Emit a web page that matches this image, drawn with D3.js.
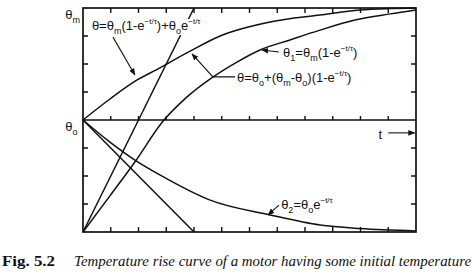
<!DOCTYPE html>
<html lang="en">
<head>
<meta charset="utf-8">
<title>Temperature rise curve</title>
<script src="https://cdn.jsdelivr.net/npm/d3@7"></script>
<style>
  body { margin: 0; background: #fff; }
  .lbl { font-family: "Liberation Sans", Arial, sans-serif; font-size: 13px; fill: #111; }
</style>
</head>
<body>
<script>
// time in tick units (0..12), temperature in tick units: 0 bottom, theta_o = 4, theta_m = 8
var tTicks = d3.range(1, 12);
var thTicks = [1, 2, 3, 5, 6, 7];

// theta1 = theta_m (1 - e^-t/T)   (starts at 0)
var riseT  = [0, 0.97, 1.87, 2.86, 3.71, 4.69, 5.55, 6.38, 7.46, 8.54, 9.8, 11.07, 12];
var riseV  = [0, 1.29, 2.5, 3.93, 4.79, 5.54, 6.07, 6.5, 6.86, 7.21, 7.57, 7.79, 7.93];
// theta = theta_o + (theta_m - theta_o)(1 - e^-t/T)
var initT  = [0, 0.97, 1.95, 2.77, 3.14, 3.86, 4.94, 6.74, 8.54, 9.98, 11.06, 12];
var initV  = [4, 4.75, 5.43, 5.86, 6.07, 6.46, 7.0, 7.5, 7.75, 7.93, 7.98, 8];
// theta2 = theta_o e^-t/T
var decayT = [0, 0.97, 1.87, 2.77, 4.58, 6.74, 8.54, 9.98, 12];
var decayV = [4, 3.21, 2.57, 2.04, 1.14, 0.61, 0.25, 0.125, 0.04];
// tangents at the origin
var tanRiseT = [0, 4], tanRiseV = [0, 8];
var tanDecayT = [0, 4], tanDecayV = [4, 0];

var w = 473, h = 274;
var svg = d3.select("body").append("svg").attr("width", w).attr("height", h);

svg.append("defs").append("marker")
    .attr("id", "ah").attr("viewBox", "0 0 10 10")
    .attr("refX", 9).attr("refY", 5)
    .attr("markerWidth", 7).attr("markerHeight", 7)
    .attr("markerUnits", "userSpaceOnUse")
    .attr("orient", "auto")
  .append("path").attr("d", "M0,1 L10,5 L0,9 Z").attr("fill", "#111");

var x = d3.scaleLinear().domain([0, 12]).range([83, 416]);
var y = d3.scaleLinear().domain([0, 8]).range([232, 8]);

// frame and middle (theta_o) line
svg.append("rect").attr("x", x(0)).attr("y", y(8))
   .attr("width", x(12) - x(0)).attr("height", y(0) - y(8))
   .attr("fill", "none").attr("stroke", "#111").attr("stroke-width", 1.7);
svg.append("line").attr("x1", x(0)).attr("x2", x(12)).attr("y1", y(4)).attr("y2", y(4))
   .attr("stroke", "#111").attr("stroke-width", 1.3);

// inward ticks, drawn as small paths
var tickPath = [];
tTicks.forEach(function(t) {
  tickPath.push("M" + x(t) + "," + y(0) + "v-5");
  tickPath.push("M" + x(t) + "," + y(8) + "v5");
  tickPath.push("M" + x(t) + "," + y(4) + "v-4");
});
thTicks.forEach(function(v) {
  tickPath.push("M" + x(0) + "," + y(v) + "h5");
  tickPath.push("M" + x(12) + "," + y(v) + "h-5");
});
svg.append("path").attr("d", tickPath.join(""))
   .attr("fill", "none").attr("stroke", "#111").attr("stroke-width", 1.4);

// curves
var line = d3.line()
    .x(function(d) { return x(d[0]); })
    .y(function(d) { return y(d[1]); })
    .curve(d3.curveMonotoneX);
var straight = d3.line()
    .x(function(d) { return x(d[0]); })
    .y(function(d) { return y(d[1]); });

function pairs(a, b) { return a.map(function(v, i) { return [v, b[i]]; }); }

[[riseT, riseV], [initT, initV], [decayT, decayV]].forEach(function(s) {
  svg.append("path").datum(pairs(s[0], s[1]))
     .attr("d", line).attr("fill", "none").attr("stroke", "#111").attr("stroke-width", 1.5);
});
[[tanRiseT, tanRiseV], [tanDecayT, tanDecayV]].forEach(function(s) {
  svg.append("path").datum(pairs(s[0], s[1]))
     .attr("d", straight).attr("fill", "none").attr("stroke", "#111").attr("stroke-width", 1.5);
});

// labels
function label(tx, ty, parts) {
  var t = svg.append("text").attr("class", "lbl").attr("x", x(tx)).attr("y", y(ty));
  var off = 0;
  parts.forEach(function(p) {
    var s = t.append("tspan").text(p[0]);
    var dy = 0;
    if (p[1] === "sub") { s.attr("font-size", "9px"); dy = 4; }
    if (p[1] === "sup") { s.attr("font-size", "8px"); dy = -6; }
    // shift relative to previous tspan, return to baseline for normal text
    var move = dy - off;
    if (move !== 0) s.attr("dy", move);
    off = dy;
  });
  return t;
}

var sup = "\u2212t/\u03c4";
var th = "\u03b8";

// white backing behind top label so the tangent passes under it
svg.append("rect").attr("x", x(0.32) - 1).attr("y", y(7.21) - 11)
   .attr("width", 117).attr("height", 16).attr("fill", "#fff");
label(0.32, 7.21, [[th + "=" + th], ["m", "sub"], ["(1-e"], [sup, "sup"], [")+" + th], ["o", "sub"], ["e"], [sup, "sup"]]);
label(5.55, 5.36, [[th + "=" + th], ["o", "sub"], ["+(" + th], ["m", "sub"], ["-" + th], ["o", "sub"], [")(1-e"], [sup, "sup"], [")"]]);
label(7.21, 6.25, [[th], ["1", "sub"], ["=" + th], ["m", "sub"], ["(1-e"], [sup, "sup"], [")"]]);
label(7.14, 0.82, [[th], ["2", "sub"], ["=" + th], ["o", "sub"], ["e"], [sup, "sup"]]);

// axis captions
label(-0.64, 7.6, [[th], ["m", "sub"]]);
label(-0.64, 3.6, [[th], ["o", "sub"]]);
svg.append("text").attr("class", "lbl").attr("x", x(10.65)).attr("y", y(3.32)).text("t");

// arrows (in data units)
var arrows = [
  [[1.08, 6.96], [1.87, 5.61]],
  [[5.48, 5.54], [4.68, 5.54], [3.93, 6.36]],
  [[7.06, 6.43], [6.45, 6.5]],
  [[7.06, 0.96], [6.67, 0.61]],
  [[11.0, 3.54], [11.95, 3.54]]
];
arrows.forEach(function(a) {
  svg.append("path").datum(a).attr("d", straight)
     .attr("fill", "none").attr("stroke", "#111").attr("stroke-width", 1.1)
     .attr("marker-end", "url(#ah)");
});

// caption
svg.append("text").attr("x", 2).attr("y", 266)
   .attr("font-family", "Liberation Serif, serif").attr("font-size", "15px")
   .attr("font-weight", "bold").attr("fill", "#111")
   .attr("textLength", 53).attr("lengthAdjust", "spacingAndGlyphs").text("Fig. 5.2");
svg.append("text").attr("x", 74).attr("y", 266)
   .attr("font-family", "Liberation Serif, serif").attr("font-size", "15px")
   .attr("font-style", "italic").attr("fill", "#111")
   .attr("textLength", 397).attr("lengthAdjust", "spacingAndGlyphs")
   .text("Temperature rise curve of a motor having some initial temperature");
</script>
</body>
</html>
